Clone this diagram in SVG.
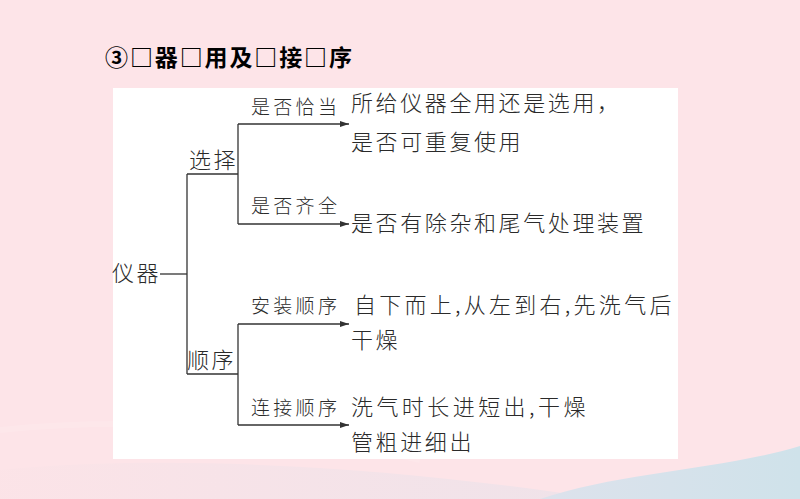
<svg xmlns="http://www.w3.org/2000/svg" width="800" height="499" viewBox="0 0 800 499">
  <defs>
    <linearGradient id="blue" x1="0" y1="0" x2="1" y2="0">
      <stop offset="0" stop-color="#dde2ec"/>
      <stop offset="1" stop-color="#cfe2ea"/>
    </linearGradient>
    <linearGradient id="band" x1="0" y1="0" x2="1" y2="0">
      <stop offset="0" stop-color="#fbe3e7"/>
      <stop offset="1" stop-color="#e9e2ea"/>
    </linearGradient>
    <marker id="arr" markerUnits="userSpaceOnUse" markerWidth="9" markerHeight="6" refX="9" refY="3" orient="auto">
      <path d="M0,0 L9,3 L0,6 Z" fill="#333"/>
    </marker>
    <style>
      text { font-family: "Noto Sans CJK SC", "Noto Sans", sans-serif; fill: #2a2a2a; }
      .title { font-size: 23px; font-weight: 700; fill: #000; }
      .main { font-size: 22px; letter-spacing: 2.6px; font-weight: 300; }
      .small { font-size: 19px; letter-spacing: 3.3px; font-weight: 300; }
      .cat { font-size: 22px; letter-spacing: 2.5px; font-weight: 300; }
      .ln { stroke: #333; stroke-width: 1.3; fill: none; }
    </style>
  </defs>

  <g id="background">
    <rect x="0" y="0" width="800" height="499" fill="#fde4e8"/>
    <path d="M0,470 C180,452 420,470 600,499 L0,499 Z" fill="url(#band)" opacity="0.7"/>
    <path d="M0,430 C150,415 300,430 420,460" stroke="#ffffff" stroke-opacity="0.12" stroke-width="6" fill="none"/>
    <path d="M540,499 C620,472 720,470 800,446 L800,499 Z" fill="url(#blue)"/>
    <rect x="113" y="88" width="565" height="371" fill="#ffffff"/>
  </g>

  <g id="title">
    <text class="title" x="105" y="66" textLength="247" lengthAdjust="spacing">③□器□用及□接□序</text>
  </g>

  <g id="connectors">
    <path class="ln" d="M160,274 H187"/>
    <path class="ln" d="M187,174 V374"/>
    <path class="ln" d="M187,174 H238"/>
    <path class="ln" d="M187,374 H238"/>
    <path class="ln" d="M238,124 V224"/>
    <path class="ln" d="M238,324 V425"/>
    <path class="ln" d="M238,124 H349" marker-end="url(#arr)"/>
    <path class="ln" d="M238,224 H349" marker-end="url(#arr)"/>
    <path class="ln" d="M238,324 H349" marker-end="url(#arr)"/>
    <path class="ln" d="M238,425 H349" marker-end="url(#arr)"/>
  </g>

  <g id="node-yiqi">
    <text class="cat" x="112" y="281">仪器</text>
  </g>
  <g id="node-xuanze">
    <text class="cat" x="189" y="168">选择</text>
  </g>
  <g id="node-shunxu">
    <text class="cat" x="187" y="368">顺序</text>
  </g>

  <g id="node-qiadang">
    <text class="small" x="251" y="114">是否恰当</text>
    <text class="main" x="351" y="111">所给仪器全用还是选用，</text>
    <text class="main" x="351" y="150">是否可重复使用</text>
  </g>
  <g id="node-qiquan">
    <text class="small" x="251" y="213">是否齐全</text>
    <text class="main" x="351" y="231">是否有除杂和尾气处理装置</text>
  </g>
  <g id="node-anzhuang">
    <text class="small" x="251" y="313">安装顺序</text>
    <text class="main" x="354" y="313" textLength="320" lengthAdjust="spacing">自下而上,从左到右,先洗气后</text>
    <text class="main" x="351" y="348">干燥</text>
  </g>
  <g id="node-lianjie">
    <text class="small" x="251" y="415">连接顺序</text>
    <text class="main" x="351" y="415" textLength="237" lengthAdjust="spacing">洗气时长进短出,干燥</text>
    <text class="main" x="351" y="450">管粗进细出</text>
  </g>
</svg>
